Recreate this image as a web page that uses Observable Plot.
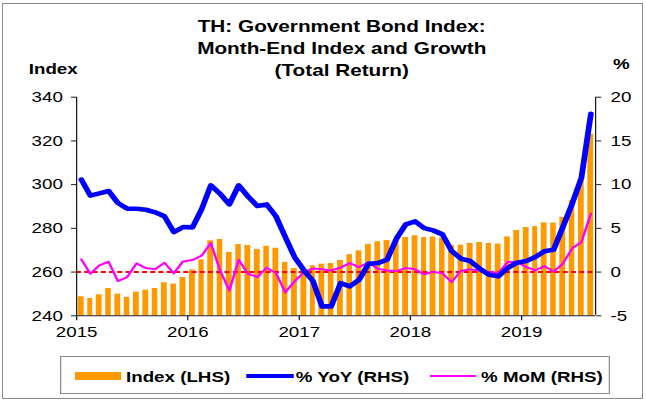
<!DOCTYPE html>
<html><head><meta charset="utf-8">
<script src="https://cdn.jsdelivr.net/npm/d3@7"></script>
<script src="https://cdn.jsdelivr.net/npm/@observablehq/plot@0.6"></script>
<style>
html,body{margin:0;padding:0;background:#fff;}
body{width:646px;height:402px;overflow:hidden;position:relative;font-family:"Liberation Sans",Arial,sans-serif;}
#frame{position:absolute;left:2px;top:3px;width:641px;height:396px;box-sizing:border-box;border:1px solid #8c8c8c;}
#stage{position:absolute;left:0;top:0;width:516.8px;height:402px;transform:scaleX(1.25);transform-origin:0 0;}
#stage svg{position:absolute;left:0;top:0;}
.t{position:absolute;white-space:nowrap;font-weight:bold;color:#000;}
#title{left:123.4px;width:300px;top:16.1px;text-align:center;font-size:16.6px;line-height:22px;}
#ylab{left:23px;top:60.8px;font-size:15px;line-height:15px;}
#y2lab{left:490.4px;top:56.3px;font-size:15px;line-height:15px;}
#legend{position:absolute;left:48px;top:356px;width:440px;height:38px;box-sizing:border-box;border:1px solid #8c8c8c;}
.sw{position:absolute;}
.lt{position:absolute;top:369.3px;font-size:15px;line-height:15px;font-weight:bold;white-space:nowrap;}
</style>
</head>
<body>
<div id="frame"></div>
<div id="stage">
  <div id="chart"></div>
  <div class="t" id="title">TH: Government Bond Index:<br>Month-End Index and Growth<br>(Total Return)</div>
  <div class="t" id="ylab">Index</div>
  <div class="t" id="y2lab">%</div>
  <div id="legend"></div>
  <div class="sw" style="left:60px;top:372px;width:36.8px;height:8px;background:#ff9900"></div>
  <div class="lt" style="left:100.8px">Index (LHS)</div>
  <div class="sw" style="left:196.8px;top:374px;width:38.4px;height:4px;background:#0000ff"></div>
  <div class="lt" style="left:236.6px">% YoY (RHS)</div>
  <div class="sw" style="left:343.7px;top:375px;width:37px;height:2px;background:#ff00ff"></div>
  <div class="lt" style="left:384.8px">% MoM (RHS)</div>
</div>
<script>
const months = [
  "2015-01","2015-02","2015-03","2015-04","2015-05","2015-06","2015-07","2015-08","2015-09","2015-10","2015-11","2015-12",
  "2016-01","2016-02","2016-03","2016-04","2016-05","2016-06","2016-07","2016-08","2016-09","2016-10","2016-11","2016-12",
  "2017-01","2017-02","2017-03","2017-04","2017-05","2017-06","2017-07","2017-08","2017-09","2017-10","2017-11","2017-12",
  "2018-01","2018-02","2018-03","2018-04","2018-05","2018-06","2018-07","2018-08","2018-09","2018-10","2018-11","2018-12",
  "2019-01","2019-02","2019-03","2019-04","2019-05","2019-06","2019-07","2019-08"
];
const indexValues = [
  248.7, 247.9, 249.6, 252.5, 249.9, 248.4, 250.8, 251.7, 252.5, 255.1, 254.5, 257.5,
  261.0, 265.6, 274.3, 274.9, 269.0, 272.6, 272.2, 270.3, 271.8, 270.9, 264.4, 261.6,
  261.0, 262.9, 263.6, 263.9, 265.3, 268.0, 269.7, 272.6, 273.9, 274.4, 274.8, 275.8,
  276.6, 275.8, 276.0, 275.5, 272.2, 272.3, 273.1, 273.5, 273.1, 272.8, 276.1, 279.0,
  280.4, 280.8, 282.5, 282.4, 285.0, 292.7, 302.7, 323.1
];
const yoyValues = [
  10.57, 8.74, 9.0, 9.27, 7.9, 7.25, 7.25, 7.13, 6.83, 6.37, 4.57, 5.15,
  5.11, 7.2, 9.92, 8.96, 7.74, 9.92, 8.66, 7.55, 7.74, 6.37, 4.0, 1.72,
  0.19, -1.03, -3.92, -3.92, -1.26, -1.64, -0.87, 0.96, 1.03, 1.42, 3.82, 5.45,
  5.8, 5.03, 4.77, 4.31, 2.4, 1.53, 1.26, 0.39, -0.3, -0.49, 0.46, 1.07,
  1.26, 1.72, 2.37, 2.56, 5.15, 7.82, 10.8, 18.1
];
const momValues = [
  1.45, -0.19, 0.76, 1.18, -1.03, -0.57, 0.99, 0.46, 0.31, 1.07, -0.15, 1.22,
  1.37, 1.87, 3.32, 0.19, -2.13, 1.41, -0.19, -0.57, 0.5, -0.11, -2.32, -1.06,
  0.0, 0.42, 0.31, 0.19, 0.5, 1.03, 0.57, 1.11, 0.39, 0.19, 0.11, 0.46,
  0.31, -0.26, 0.04, -0.15, -1.14, 0.15, 0.31, 0.15, 0.0, -0.11, 1.14, 1.18,
  0.57, 0.19, 0.69, 0.04, 0.96, 2.71, 3.43, 6.68
];
const leftTicks = [240, 260, 280, 300, 320, 340];
const rightTicks = [-5, 0, 5, 10, 15, 20];
const yearTicks = ["2015", "2016", "2017", "2018", "2019"];

// RHS (%) is mapped onto the LHS index scale: 0% <-> 260, 5 pts of % <-> 20 index pts
const pctToIndex = p => 260 + 4 * p;
const indexToPct = v => (v - 260) / 4;

const parseMonth = d3.utcParse("%Y-%m");
const parseYear = d3.utcParse("%Y");
const data = months.map((m, i) => {
  const start = parseMonth(m);
  const end = d3.utcMonth.offset(start, 1);
  return {start, end, mid: new Date((+start + +end) / 2),
          index: indexValues[i], yoy: yoyValues[i], mom: momValues[i]};
});

const W = 646 / 1.25;
const axisColor = "#1a1a1a";
const chart = Plot.plot({
  width: W,
  height: 402,
  marginLeft: 60.8,
  marginRight: W - 476,
  marginTop: 96.7,
  marginBottom: 86.7,
  style: {fontFamily: "'Liberation Sans', Arial, sans-serif", fontSize: "15px", color: "#000", background: "transparent", overflow: "visible"},
  x: {type: "utc", domain: [data[0].start, data[data.length - 1].end]},
  y: {domain: [leftTicks[0], leftTicks[leftTicks.length - 1]]},
  marks: [
    Plot.rect(data, {x1: "start", x2: "end", y1: leftTicks[0], y2: "index", fill: "#ff9900", insetLeft: 1.45, insetRight: 1.45}),
    Plot.ruleY([0], {y: pctToIndex, stroke: "#ff0000", strokeWidth: 2, strokeDasharray: "4,2.6"}),
    Plot.line(data, {x: "mid", y: d => pctToIndex(d.mom), stroke: "#ff00ff", strokeWidth: 2, strokeLinejoin: "round"}),
    Plot.line(data, {x: "mid", y: d => pctToIndex(d.yoy), stroke: "#0000ff", strokeWidth: 4.6, strokeLinejoin: "round"}),
    Plot.ruleX([data[0].start], {stroke: axisColor}),
    Plot.ruleX([data[data.length - 1].end], {stroke: axisColor}),
    Plot.ruleY([leftTicks[0]], {stroke: axisColor}),
    Plot.axisY(leftTicks, {anchor: "left", tickSize: 4, tickPadding: 7, fontSize: 15, label: null, stroke: axisColor}),
    Plot.axisY(rightTicks.map(pctToIndex), {anchor: "right", tickFormat: v => String(indexToPct(v)), tickSize: 4, tickPadding: 8, fontSize: 15, label: null, stroke: axisColor}),
    Plot.axisX(yearTicks.map(parseYear), {tickFormat: d3.utcFormat("%Y"), tickSize: 5, tickPadding: 6, fontSize: 15, label: null, stroke: axisColor})
  ]
});
document.getElementById("chart").appendChild(chart);
</script>
</body></html>
